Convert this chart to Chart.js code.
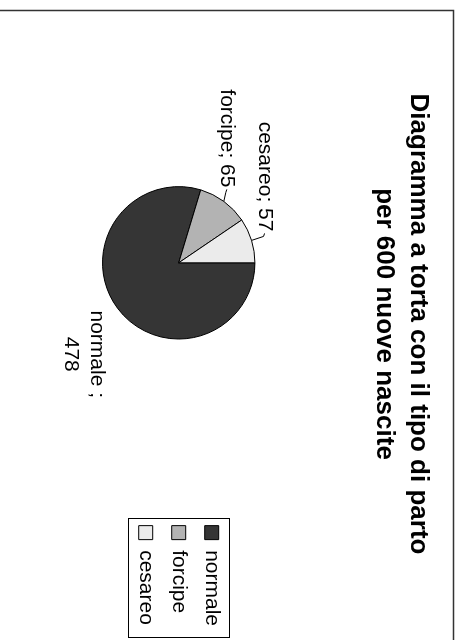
<!DOCTYPE html>
<html>
<head>
<meta charset="utf-8">
<script src="https://cdn.jsdelivr.net/npm/chart.js@4.4.1/dist/chart.umd.min.js"></script>
<style>
  html, body { margin: 0; padding: 0; background: #fff; overflow: hidden; }
  /* the chart is laid out landscape and turned a quarter clockwise */
  #wrap {
    position: absolute; left: 0; top: 0;
    width: 640px; height: 463px;
    transform-origin: 0 0;
    transform: translate(463px, 0) rotate(90deg);
  }
</style>
</head>
<body>
<div id="wrap"><canvas id="torta" width="640" height="463"></canvas></div>
<script>
var categorie = ['normale', 'forcipe', 'cesareo'];
var nascite = [478, 65, 57];
var colori = ['#353535', '#b3b3b3', '#ebebeb'];
var titolo = ['Diagramma a torta con il tipo di parto', 'per 600 nuove nascite'];

var FONT = '"Liberation Sans", Arial, Helvetica, sans-serif';

// where each data label sits, relative to the middle of the slice's outer edge
var posEtichette = [
    { dx: 46, dy: 21, align: 'center', leader: false },
    { dx: -14, dy: -3, align: 'right', leader: true },
    { dx: -9, dy: -13, align: 'right', leader: true }
];

function testoEtichetta(i) {
    if (i === 0) return [categorie[i] + ' ;', String(nascite[i])];
    return [categorie[i] + '; ' + nascite[i]];
}

// white background and the outer frame
var sfondo = {
    id: 'sfondo',
    beforeDraw: function(chart) {
        var ctx = chart.ctx;
        ctx.save();
        ctx.fillStyle = '#fff';
        ctx.fillRect(0, 0, chart.width, chart.height);
        ctx.strokeStyle = '#333';
        ctx.lineWidth = 1.5;
        ctx.strokeRect(10.5, 9.5, 800, 600);
        ctx.restore();
    }
};

// "categoria; valore" labels with short leader lines
var etichette = {
    id: 'etichette',
    afterDatasetsDraw: function(chart) {
        var ctx = chart.ctx;
        var meta = chart.getDatasetMeta(0);
        ctx.save();
        ctx.font = '21px ' + FONT;
        ctx.fillStyle = '#000';
        ctx.strokeStyle = '#000';
        ctx.lineWidth = 1;
        ctx.textBaseline = 'middle';
        meta.data.forEach(function(arc, i) {
            var p = arc.getProps(['x', 'y', 'startAngle', 'endAngle', 'outerRadius'], true);
            var mid = (p.startAngle + p.endAngle) / 2;
            var ex = p.x + Math.cos(mid) * p.outerRadius;
            var ey = p.y + Math.sin(mid) * p.outerRadius;
            var pos = posEtichette[i];
            var tx = ex + pos.dx, ty = ey + pos.dy;
            ctx.textAlign = pos.align;
            testoEtichetta(i).forEach(function(riga, k) {
                ctx.fillText(riga, tx, ty + k * 26);
            });
            if (pos.leader) {
                ctx.beginPath();
                ctx.moveTo(tx + 2, ty);
                ctx.lineTo(tx + 5, ty + 1);
                ctx.lineTo(ex, ey);
                ctx.stroke();
            }
        });
        ctx.restore();
    }
};

// box around the legend entries
var cornice = {
    id: 'cornice',
    afterDraw: function(chart) {
        var boxes = chart.legend.legendHitBoxes;
        if (!boxes || !boxes.length) return;
        var first = boxes[0], last = boxes[boxes.length - 1];
        var x = Math.round(first.left - 8) + 0.5;
        var y = Math.round(first.top - 8) + 0.5;
        var h = Math.round(last.top + last.height + 6) - Math.round(first.top - 8);
        var ctx = chart.ctx;
        ctx.save();
        ctx.strokeStyle = '#000';
        ctx.lineWidth = 1;
        ctx.strokeRect(x, y, 119, h);
        ctx.restore();
    }
};

var ctx = document.getElementById('torta');
var torta = new Chart(ctx, {
    type: 'pie',
    data: {
        labels: categorie,
        datasets: [{
            data: nascite,
            backgroundColor: colori,
            borderColor: '#000',
            borderWidth: 1
        }]
    },
    plugins: [sfondo, etichette, cornice],
    options: {
        responsive: false,
        animation: false,
        layout: { padding: { left: 12, right: 4, top: 0, bottom: 102 } },
        plugins: {
            title: {
                display: true,
                text: titolo,
                color: '#000',
                font: { family: FONT, size: 26, weight: 'bold', lineHeight: 1.3 },
                padding: { top: 28, bottom: 112 }
            },
            legend: {
                position: 'right',
                fullSize: false,
                labels: {
                    boxWidth: 14,
                    boxHeight: 14,
                    padding: 12,
                    color: '#000',
                    font: { family: FONT, size: 21 }
                }
            },
            tooltip: { enabled: false }
        }
    }
});
</script>
</body>
</html>
